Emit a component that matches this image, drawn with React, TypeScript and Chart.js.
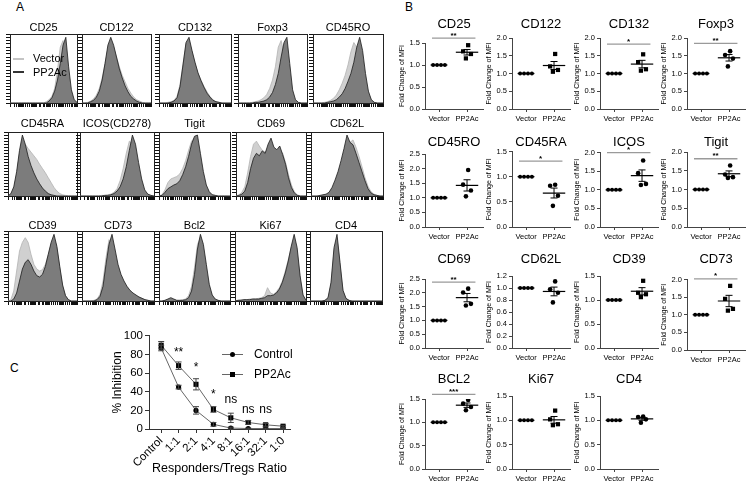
import React, { useEffect, useRef } from 'react';
import { Chart, registerables } from 'chart.js';

Chart.register(...registerables);

const FONT = '"Liberation Sans", Arial, Helvetica, sans-serif';

// ---------------- Panel A: flow histograms (25 bins, % of mode) ----------------
const HIST_TITLES = ['CD25', 'CD122', 'CD132', 'Foxp3', 'CD45RO', 'CD45RA', 'ICOS(CD278)', 'Tigit', 'CD69', 'CD62L', 'CD39', 'CD73', 'Bcl2', 'Ki67', 'CD4'];

const HV_CD25 = [0,0,0,0,0,0,0,0,0,0,0,0,0,2,5,10,22,50,85,95,60,25,8,2,0];
const HP_CD25 = [0,0,0,0,0,0,0,0,0,0,0,0,0,0,3,8,18,35,60,88,100,55,20,5,1];
const HV_CD122 = [0,0,1,3,6,12,22,38,60,82,92,85,70,55,42,32,22,15,9,5,3,1,0,0,0];
const HP_CD122 = [0,0,0,2,4,9,18,35,60,88,100,88,70,52,38,26,17,10,6,3,1,0,0,0,0];
const HV_CD132 = [0,0,0,1,2,4,10,28,60,90,95,78,60,45,35,25,17,10,5,2,1,0,0,0,0];
const HP_CD132 = [0,0,0,0,1,3,8,25,58,92,100,80,62,46,34,24,15,9,4,2,1,0,0,0,0];
const HV_FOXP3 = [0,0,0,0,0,1,2,3,5,8,13,22,35,55,85,95,75,55,25,8,2,0,0,0,0];
const HP_FOXP3 = [0,0,0,0,0,0,1,1,2,3,5,9,16,28,45,70,92,100,60,20,5,1,0,0,0];
const HV_CD45RO = [0,0,0,0,1,2,4,7,12,20,30,42,58,78,92,85,78,60,35,15,5,1,0,0,0];
const HP_CD45RO = [0,0,0,0,0,1,2,3,5,9,14,22,33,45,62,85,100,80,45,18,5,1,0,0,0];
const HV_CD45RA = [0,3,12,35,70,90,85,78,72,66,60,52,45,38,30,22,14,8,4,2,1,0,0,0,0];
const HP_CD45RA = [0,4,15,40,75,100,85,65,50,38,28,20,13,8,4,2,1,0,0,0,0,0,0,0,0];
const HV_ICOS = [0,0,0,0,0,0,0,1,1,2,3,6,12,25,45,70,90,85,65,40,20,8,3,1,0];
const HP_ICOS = [0,0,0,0,0,0,0,0,1,1,2,4,8,15,28,48,75,100,85,55,28,10,3,1,0];
const HV_TIGIT = [0,2,10,22,28,30,32,36,45,58,75,90,95,80,55,30,14,6,2,1,0,0,0,0,0];
const HP_TIGIT = [0,1,6,12,15,18,20,25,35,48,65,85,98,100,70,40,18,7,2,1,0,0,0,0,0];
const HV_CD69 = [0,2,6,15,38,65,85,90,82,75,72,78,80,75,72,76,70,55,35,18,7,2,0,0,0];
const HP_CD69 = [0,1,3,8,22,45,62,70,66,74,70,85,95,80,76,82,68,52,30,14,5,1,0,0,0];
const HV_CD62L = [0,0,0,0,1,2,4,10,20,32,45,60,78,88,92,80,65,48,30,16,7,3,1,0,0];
const HP_CD62L = [0,0,0,1,2,3,6,14,26,40,58,78,100,88,84,70,55,40,25,12,5,2,1,0,0];
const HV_CD39 = [0,2,15,45,75,88,95,88,70,55,48,45,47,55,70,85,95,80,50,22,8,2,0,0,0];
const HP_CD39 = [0,0,3,12,30,48,58,62,55,45,38,36,40,52,70,88,100,82,52,24,8,2,0,0,0];
const HV_CD73 = [0,0,0,0,1,3,10,30,65,92,85,65,48,35,26,20,15,11,8,6,4,2,1,0,0];
const HP_CD73 = [0,0,0,0,0,2,7,22,55,85,100,78,55,40,30,22,16,12,9,6,4,2,1,0,0];
const HV_BCL2 = [0,0,1,2,3,2,1,1,2,3,8,22,50,85,95,75,45,20,7,2,1,0,0,0,0];
const HP_BCL2 = [0,0,1,3,5,3,1,1,1,2,5,15,40,78,100,85,55,25,9,3,1,0,0,0,0];
const HV_KI67 = [0,1,2,2,2,3,3,3,4,5,8,20,12,10,14,20,30,45,62,80,92,75,35,8,1];
const HP_KI67 = [0,1,1,2,2,2,3,3,3,4,5,8,8,9,12,18,28,42,60,82,100,80,38,9,1];
const HV_CD4 = [0,0,0,0,0,1,4,25,75,95,55,15,3,1,0,0,0,0,0,0,0,0,0,0,0];
const HP_CD4 = [0,0,0,0,0,1,5,28,80,100,58,16,4,1,0,0,0,0,0,0,0,0,0,0,0];

const HIST_VECTOR = [HV_CD25, HV_CD122, HV_CD132, HV_FOXP3, HV_CD45RO, HV_CD45RA, HV_ICOS, HV_TIGIT, HV_CD69, HV_CD62L, HV_CD39, HV_CD73, HV_BCL2, HV_KI67, HV_CD4];
const HIST_PP2AC = [HP_CD25, HP_CD122, HP_CD132, HP_FOXP3, HP_CD45RO, HP_CD45RA, HP_ICOS, HP_TIGIT, HP_CD69, HP_CD62L, HP_CD39, HP_CD73, HP_BCL2, HP_KI67, HP_CD4];

// ---------------- Panel B: fold change of MFI ----------------
const B_TITLES = ['CD25', 'CD122', 'CD132', 'Foxp3', 'CD45RO', 'CD45RA', 'ICOS', 'Tigit', 'CD69', 'CD62L', 'CD39', 'CD73', 'BCL2', 'Ki67', 'CD4'];
const B_GROUPS = ['Vector', 'PP2Ac'];
const VECTOR_FOLD = [1.0, 1.0, 1.0, 1.0];

const PP2AC_CD25 = [1.45, 1.31, 1.25, 1.15];
const PP2AC_CD122 = [1.55, 1.20, 1.10, 1.05];
const PP2AC_CD132 = [1.54, 1.32, 1.12, 1.08];
const PP2AC_FOXP3 = [1.63, 1.52, 1.42, 1.20];
const PP2AC_CD45RO = [1.95, 1.45, 1.25, 1.05];
const PP2AC_CD45RA = [0.84, 0.82, 0.62, 0.42];
const PP2AC_ICOS = [1.79, 1.45, 1.16, 1.13];
const PP2AC_TIGIT = [1.64, 1.40, 1.33, 1.31];
const PP2AC_CD69 = [2.15, 2.01, 1.60, 1.54];
const PP2AC_CD62L = [1.11, 0.98, 0.92, 0.76];
const PP2AC_CD39 = [1.40, 1.15, 1.12, 1.06];
const PP2AC_CD73 = [1.82, 1.45, 1.17, 1.12];
const PP2AC_BCL2 = [1.48, 1.40, 1.33, 1.26];
const PP2AC_KI67 = [1.20, 1.02, 0.92, 0.90];
const PP2AC_CD4 = [1.08, 1.07, 1.02, 0.95];

const PP2AC_FOLD = [PP2AC_CD25, PP2AC_CD122, PP2AC_CD132, PP2AC_FOXP3, PP2AC_CD45RO, PP2AC_CD45RA, PP2AC_ICOS, PP2AC_TIGIT, PP2AC_CD69, PP2AC_CD62L, PP2AC_CD39, PP2AC_CD73, PP2AC_BCL2, PP2AC_KI67, PP2AC_CD4];

const B_Y_MAX = [1.5, 2.0, 2.0, 2.0, 2.5, 1.5, 2.0, 2.0, 2.5, 1.2, 1.5, 2.0, 1.5, 1.5, 1.5];
const B_Y_STEP = [0.5, 0.5, 0.5, 0.5, 0.5, 0.5, 0.5, 0.5, 0.5, 0.2, 0.5, 0.5, 0.5, 0.5, 0.5];
const B_SIG_TEXT = ['**', '', '*', '**', '', '*', '*', '**', '**', '', '', '*', '***', '', ''];
const B_SIG_LEVEL = [1.61, null, 1.83, 1.85, null, 1.31, 2.0, 1.82, 2.39, null, null, 2.02, 1.60, null, null];

// ---------------- Panel C: suppression assay ----------------
const C_CATS = ['Control', '1:1', '2:1', '4:1', '8:1', '16:1', '32:1', '1:0'];
const C_CONTROL = [87, 45, 20, 5, 1, 0.5, 0.5, 0.5];
const C_CONTROL_SEM = [3, 2, 4, 2, 1, 0.5, 0.5, 0.5];
const C_PP2AC = [90, 68, 48, 21, 12, 7, 4.5, 3];
const C_PP2AC_SEM = [4, 4, 6, 3, 5, 2, 1.5, 1];
const C_SIG_TEXT = ['', '**', '*', '*', 'ns', 'ns', 'ns', ''];
const C_SIG_Y = [null, 82, 66, 37, 31, 21, 21, null];

// ---------------- layout (pixels) ----------------
const A_ROWS = [
  { titleY: 28, top: 34, bottom: 103 },
  { titleY: 124, top: 132, bottom: 196 },
  { titleY: 226, top: 231, bottom: 301 },
];
const A_BOXES = [
  [[10, 77], [82, 151], [159, 231], [238, 307], [313, 383]],
  [[8, 77], [80, 154], [159, 230], [236, 306], [311, 383]],
  [[8, 77], [82, 154], [159, 230], [235, 306], [310, 382]],
];
const B_COL_X = [425, 512, 600, 687];
const B_ROW_TITLE = [25, 143, 260, 380];
const B_TOP_PX = [43, 38, 38, 38, 154, 151.5, 152.7, 152, 279, 276, 276, 279.5, 399, 396, 396];
const B_ZERO_PX = [108.5, 108.5, 109, 109, 227.3, 227.3, 227.3, 227.3, 348, 348, 348, 350, 469, 469, 469];
const V_JITTER = [-0.21, -0.07, 0.07, 0.21];
const P_JITTER = [0.04, -0.14, 0.14, -0.04];
const PP2AC_MARK = ['rect', 'rect', 'rect', 'circle', 'circle', 'circle', 'circle', 'circle', 'circle', 'circle', 'rect', 'rect', 'circle', 'rect', 'circle'];

// ---------------- helpers ----------------
const mean = (a: number[]) => a.reduce((s, v) => s + v, 0) / a.length;
const sem = (a: number[]) => {
  const m = mean(a);
  const sd = Math.sqrt(a.reduce((s, v) => s + (v - m) * (v - m), 0) / (a.length - 1));
  return sd / Math.sqrt(a.length);
};

const errorBarPlugin = {
  id: 'errorBars',
  afterDatasetsDraw(chart: any) {
    const { ctx } = chart;
    chart.data.datasets.forEach((ds: any, di: number) => {
      if (!ds.errorBars) return;
      const meta = chart.getDatasetMeta(di);
      const ys = chart.scales[meta.yAxisID];
      ctx.save();
      ctx.strokeStyle = ds.errorColor || '#000';
      ctx.lineWidth = ds.errorWidth || 1;
      meta.data.forEach((pt: any, k: number) => {
        const e = ds.errorBars[k];
        if (!e) return;
        const raw = ds.data[k];
        const v = typeof raw === 'number' ? raw : raw.y;
        const yt = ys.getPixelForValue(v + e);
        const yb = ys.getPixelForValue(v - e);
        const cap = ds.errorCap || 3;
        ctx.beginPath();
        ctx.moveTo(pt.x, yt); ctx.lineTo(pt.x, yb);
        ctx.moveTo(pt.x - cap, yt); ctx.lineTo(pt.x + cap, yt);
        ctx.moveTo(pt.x - cap, yb); ctx.lineTo(pt.x + cap, yb);
        ctx.stroke();
      });
      ctx.restore();
    });
  },
};

function textPlugin(items: { x: number; y: number; text: string }[], font: string, baseline: string, dy: number) {
  return {
    id: 'sigText',
    afterDatasetsDraw(chart: any) {
      const { ctx } = chart;
      const xs = chart.scales.x;
      const ys = chart.scales.y;
      ctx.save();
      ctx.fillStyle = '#000';
      ctx.font = font;
      ctx.textAlign = 'center';
      ctx.textBaseline = baseline;
      items.forEach((it) => ctx.fillText(it.text, xs.getPixelForValue(it.x), ys.getPixelForValue(it.y) + dy));
      ctx.restore();
    },
  };
}

function ChartCanvas({ left, top, width, height, build }: { left: number; top: number; width: number; height: number; build: () => any }) {
  const ref = useRef<HTMLCanvasElement>(null);
  useEffect(() => {
    const chart = new Chart(ref.current as HTMLCanvasElement, build());
    return () => chart.destroy();
  }, []);
  return <canvas ref={ref} width={width} height={height} style={{ position: 'absolute', left, top, width, height }} />;
}

// ---------------- Panel A chart ----------------
function histSpec(i: number) {
  const row = Math.floor(i / 5);
  const col = i % 5;
  const r = A_ROWS[row];
  const [bl, br] = A_BOXES[row][col];
  const canvasTop = r.titleY - 6;
  const pb = Math.max(0, r.top - canvasTop - 11);
  const left = bl - 7;
  const width = br - bl + 9;
  const height = r.bottom + 7 - canvasTop;
  const tickGrid = { display: true, drawOnChartArea: false, drawTicks: true, tickLength: 4, color: '#111', tickColor: '#111', lineWidth: 1, tickWidth: 1 };
  const build = () => ({
    type: 'line',
    data: {
      labels: HIST_VECTOR[i].map((_, k) => String(k)),
      datasets: [
        { label: 'PP2Ac', data: HIST_PP2AC[i], fill: 'origin', backgroundColor: '#7c7c7c', borderColor: '#1c1c1c', borderWidth: 0.8, pointRadius: 0, tension: 0 },
        { label: 'Vector', data: HIST_VECTOR[i], fill: 'origin', backgroundColor: '#d0d0d0', borderColor: '#b2b2b2', borderWidth: 0.8, pointRadius: 0, tension: 0 },
      ],
    },
    options: {
      responsive: false,
      animation: false,
      events: [],
      layout: { padding: { left: 2, right: 2, top: 0, bottom: 2 } },
      plugins: {
        legend: { display: false },
        tooltip: { enabled: false },
        title: {
          display: true, text: HIST_TITLES[i], fullSize: false, color: '#000',
          font: { family: FONT, size: 11, weight: 'normal', lineHeight: 1 },
          padding: { top: 0, bottom: pb },
        },
      },
      scales: {
        x: { type: 'category', display: false, offset: false },
        xt: {
          type: 'logarithmic', position: 'bottom', min: 1, max: 100000,
          ticks: { display: false }, grid: tickGrid,
          border: { display: true, color: '#222', width: 1 },
          afterFit: (s: any) => { s.height = 5; },
        },
        xtop: {
          type: 'linear', position: 'top', ticks: { display: false },
          grid: { display: false, drawTicks: false }, border: { display: true, color: '#222', width: 1 },
          afterFit: (s: any) => { s.height = 0; },
        },
        y: {
          type: 'linear', min: 0, max: 105, ticks: { display: false, stepSize: 5 }, grid: tickGrid,
          border: { display: true, color: '#222', width: 1 },
          afterFit: (s: any) => { s.width = 5; },
        },
        yr: {
          type: 'linear', position: 'right', ticks: { display: false },
          grid: { display: false, drawTicks: false }, border: { display: true, color: '#222', width: 1 },
          afterFit: (s: any) => { s.width = 0; },
        },
      },
    },
  });
  return { left, top: canvasTop, width, height, build };
}

// ---------------- Panel B chart ----------------
function dotSpec(i: number) {
  const row = Math.floor(i / 4);
  const col = i % 4;
  const axisX = B_COL_X[col];
  const titleY = B_ROW_TITLE[row];
  const canvasTop = Math.round(titleY - 7.8);
  const pb = Math.max(0, B_TOP_PX[i] - canvasTop - 15.6);
  const height = Math.round(B_ZERO_PX[i] + 17 - canvasTop);
  const left = axisX - 28;
  const width = 92;
  const vals = PP2AC_FOLD[i];
  const pm = mean(vals);
  const ps = sem(vals);
  const vm = mean(VECTOR_FOLD);
  const tickGrid = { display: true, drawOnChartArea: false, drawTicks: true, tickLength: 3, color: '#444', tickColor: '#444', lineWidth: 1, tickWidth: 1 };
  const build = () => {
    const datasets: any[] = [
      { data: VECTOR_FOLD.map((v, k) => ({ x: V_JITTER[k], y: v })), pointStyle: 'circle', pointRadius: 2, pointBackgroundColor: '#000', pointBorderColor: '#000', pointBorderWidth: 0, showLine: false },
      { data: [{ x: -0.3, y: vm }, { x: 0.3, y: vm }], showLine: true, borderColor: '#000', borderWidth: 1.2, pointRadius: 0 },
      { data: vals.map((v, k) => ({ x: 1 + P_JITTER[k], y: v })), pointStyle: PP2AC_MARK[i], pointRadius: PP2AC_MARK[i] === 'rect' ? 3 : 2.3, pointBackgroundColor: '#000', pointBorderColor: '#000', pointBorderWidth: 0, showLine: false },
      { data: [{ x: 0.6, y: pm }, { x: 1.4, y: pm }], showLine: true, borderColor: '#000', borderWidth: 1.2, pointRadius: 0 },
      { data: [{ x: 1, y: pm }], pointRadius: 0, showLine: false, errorBars: [ps], errorCap: 3.5, errorWidth: 1, errorColor: '#000' },
    ];
    const lvl = B_SIG_LEVEL[i];
    const items: any[] = [];
    if (lvl != null) {
      datasets.push({ data: [{ x: -0.25, y: lvl }, { x: 1.3, y: lvl }], showLine: true, borderColor: '#9a9a9a', borderWidth: 1.3, pointRadius: 0, clip: false });
      items.push({ x: 0.52, y: lvl, text: B_SIG_TEXT[i] });
    }
    return {
      type: 'scatter',
      data: { datasets },
      options: {
        responsive: false,
        animation: false,
        events: [],
        layout: { padding: { left: 1, right: 6, top: 0, bottom: 1 } },
        plugins: {
          legend: { display: false },
          tooltip: { enabled: false },
          title: {
            display: true, text: B_TITLES[i], fullSize: false, color: '#000',
            font: { family: FONT, size: 13, weight: 'normal', lineHeight: 1.2 },
            padding: { top: 0, bottom: pb },
          },
        },
        scales: {
          x: {
            type: 'linear', min: -0.5, max: 1.57,
            afterBuildTicks: (s: any) => { s.ticks = B_GROUPS.map((_, k) => ({ value: k })); },
            ticks: { callback: (v: any) => B_GROUPS[v], autoSkip: false, maxRotation: 0, font: { family: FONT, size: 7.5 }, color: '#000', padding: 2 },
            grid: tickGrid,
            border: { display: true, color: '#444', width: 1 },
            afterFit: (s: any) => { s.height = 16; },
          },
          y: {
            type: 'linear', min: 0, max: B_Y_MAX[i],
            ticks: { stepSize: B_Y_STEP[i], callback: (v: any) => Number(v).toFixed(1), font: { family: FONT, size: 7.5 }, color: '#000', padding: 2 },
            grid: tickGrid,
            border: { display: true, color: '#444', width: 1 },
            title: { display: true, text: 'Fold Change of MFI', color: '#000', font: { family: FONT, size: 7 }, padding: { top: 0, bottom: 0 } },
            afterFit: (s: any) => { s.width = 27; },
          },
        },
      },
      plugins: [errorBarPlugin, textPlugin(items, `bold 8px ${FONT}`, 'alphabetic', -0.5)],
    };
  };
  return { left, top: canvasTop, width, height, build };
}

// ---------------- Panel C chart ----------------
function lineSpec() {
  const items: any[] = [];
  C_SIG_TEXT.forEach((t, k) => {
    if (t && C_SIG_Y[k] != null) items.push({ x: k, y: C_SIG_Y[k], text: t });
  });
  const tickGrid = { display: true, drawOnChartArea: false, drawTicks: true, tickLength: 4, color: '#333', tickColor: '#333', lineWidth: 1, tickWidth: 1 };
  const build = () => ({
    type: 'line',
    data: {
      datasets: [
        {
          label: 'Control', data: C_CONTROL.map((v, k) => ({ x: k, y: v })),
          borderColor: '#666', borderWidth: 1, tension: 0, fill: false,
          pointStyle: 'circle', pointRadius: 2.6, pointBackgroundColor: '#000', pointBorderColor: '#000', pointBorderWidth: 0,
          errorBars: C_CONTROL_SEM, errorCap: 3, errorColor: '#444', errorWidth: 1,
        },
        {
          label: 'PP2Ac', data: C_PP2AC.map((v, k) => ({ x: k, y: v })),
          borderColor: '#666', borderWidth: 1, tension: 0, fill: false,
          pointStyle: 'rect', pointRadius: 3.6, pointBackgroundColor: '#000', pointBorderColor: '#000', pointBorderWidth: 0,
          errorBars: C_PP2AC_SEM, errorCap: 3, errorColor: '#444', errorWidth: 1,
        },
      ],
    },
    options: {
      responsive: false,
      animation: false,
      events: [],
      layout: { padding: { left: 2, right: 10, top: 8, bottom: 2 } },
      plugins: { legend: { display: false }, tooltip: { enabled: false } },
      scales: {
        x: {
          type: 'linear', min: -0.7, max: 7.4,
          afterBuildTicks: (s: any) => { s.ticks = C_CATS.map((_, k) => ({ value: k })); },
          ticks: { callback: (v: any) => C_CATS[v], autoSkip: false, maxRotation: 45, minRotation: 45, font: { family: FONT, size: 11.5 }, color: '#000', padding: 1 },
          grid: tickGrid,
          border: { display: true, color: '#333', width: 1 },
          title: { display: true, text: 'Responders/Tregs Ratio', color: '#000', font: { family: FONT, size: 12.5 }, padding: { top: 0, bottom: 0 } },
          afterFit: (s: any) => { s.height = 47; },
        },
        y: {
          type: 'linear', min: 0, max: 100,
          ticks: { stepSize: 20, font: { family: FONT, size: 11.5 }, color: '#000', padding: 2 },
          grid: tickGrid,
          border: { display: true, color: '#333', width: 1 },
          title: { display: true, text: '% Inhibition', color: '#000', font: { family: FONT, size: 12 }, padding: { top: 0, bottom: 0 } },
          afterFit: (s: any) => { s.width = 39; },
        },
      },
    },
    plugins: [errorBarPlugin, textPlugin(items, `12px ${FONT}`, 'middle', 0)],
  });
  return { left: 108, top: 327, width: 192, height: 151, build };
}

const txt = (s: React.CSSProperties): React.CSSProperties => ({
  position: 'absolute', fontFamily: FONT, color: '#000', whiteSpace: 'nowrap', lineHeight: '14px', ...s,
});

export default function App() {
  const hists = HIST_TITLES.map((_, i) => histSpec(i));
  const dots = B_TITLES.map((_, i) => dotSpec(i));
  const line = lineSpec();
  return (
    <div style={{ position: 'fixed', left: 0, top: 0, width: 750, height: 486, background: '#fff', overflow: 'hidden' }}>
      <div style={txt({ left: 16, top: 0, fontSize: 12 })}>A</div>
      <div style={txt({ left: 405, top: 0, fontSize: 12 })}>B</div>
      <div style={txt({ left: 10, top: 361, fontSize: 12 })}>C</div>

      {hists.map((h, i) => <ChartCanvas key={'h' + i} {...h} />)}
      {dots.map((d, i) => <ChartCanvas key={'d' + i} {...d} />)}
      <ChartCanvas key="c" {...line} />

      {/* legend inside CD25 histogram */}
      <div style={{ position: 'absolute', left: 13, top: 58, width: 11, height: 1.5, background: '#c4c4c4' }} />
      <div style={{ position: 'absolute', left: 13, top: 71, width: 11, height: 1.5, background: '#333' }} />
      <div style={txt({ left: 33, top: 51, fontSize: 11 })}>Vector</div>
      <div style={txt({ left: 33, top: 65, fontSize: 11 })}>PP2Ac</div>

      {/* legend of panel C */}
      <div style={{ position: 'absolute', left: 222, top: 354, width: 21, height: 1, background: '#666' }} />
      <div style={{ position: 'absolute', left: 230, top: 351.5, width: 5, height: 5, borderRadius: '50%', background: '#000' }} />
      <div style={txt({ left: 254, top: 347, fontSize: 12 })}>Control</div>
      <div style={{ position: 'absolute', left: 222, top: 374, width: 21, height: 1, background: '#666' }} />
      <div style={{ position: 'absolute', left: 230, top: 372, width: 5, height: 5, background: '#000' }} />
      <div style={txt({ left: 254, top: 367, fontSize: 12 })}>PP2Ac</div>
    </div>
  );
}
